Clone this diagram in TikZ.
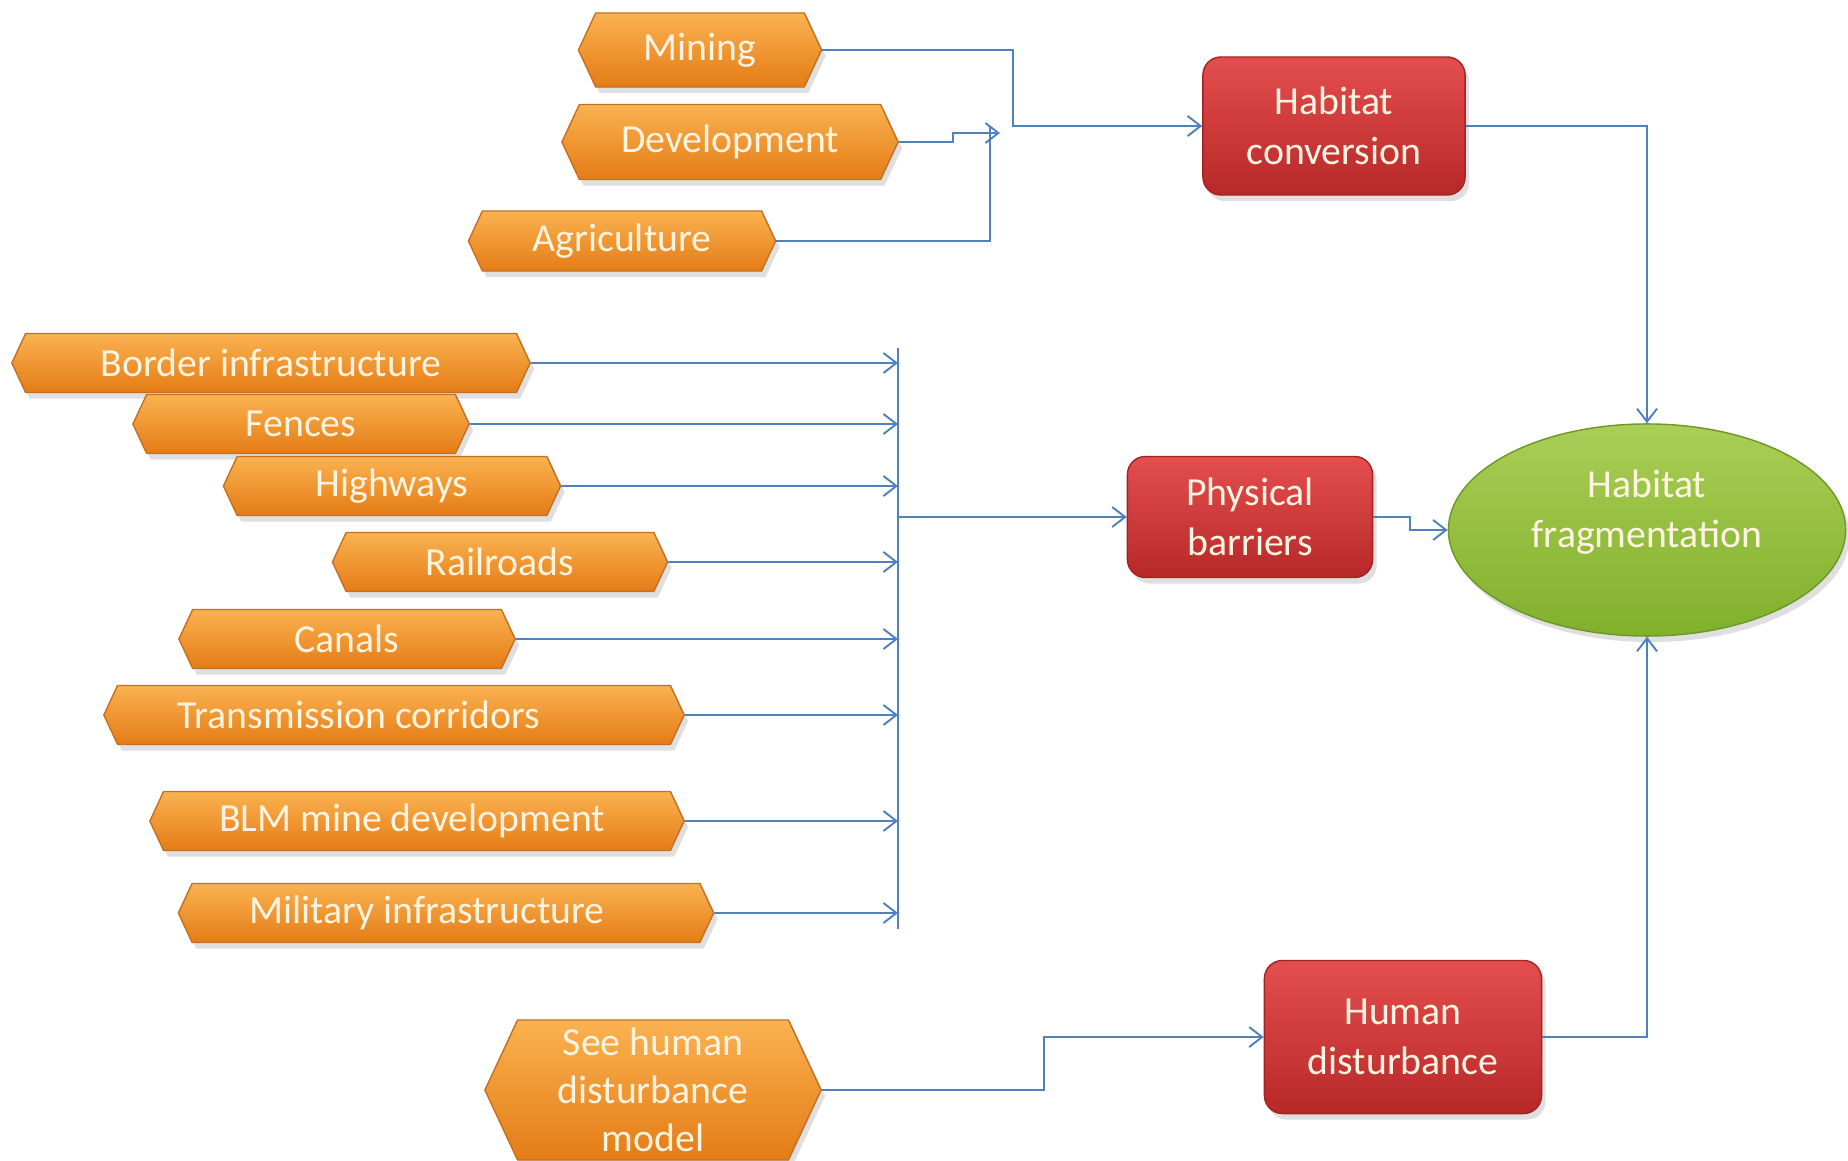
\documentclass[tikz,border=0pt]{standalone}
\usepackage{fontspec}
\setmainfont{Carlito}
\usepackage{tikz}
\usetikzlibrary{arrows.meta, shapes.symbols, shapes.geometric, shadows}

\definecolor{orTop}{RGB}{250,178,80}
\definecolor{orMid}{RGB}{247,148,32}
\definecolor{orBot}{RGB}{228,124,22}
\definecolor{orEdge}{RGB}{196,112,36}
\definecolor{redTop}{RGB}{228,78,78}
\definecolor{redMid}{RGB}{210,58,58}
\definecolor{redBot}{RGB}{184,40,40}
\definecolor{redEdge}{RGB}{160,36,36}
\definecolor{grTop}{RGB}{170,206,86}
\definecolor{grMid}{RGB}{150,194,64}
\definecolor{grBot}{RGB}{128,176,44}
\definecolor{grEdge}{RGB}{110,150,40}
\definecolor{lnBlue}{RGB}{79,129,189}
\definecolor{txCream}{RGB}{255,244,226}

\begin{document}
\begin{tikzpicture}[x=0.01cm, y=-0.01cm, >={Straight Barb[length=1.3mm, width=2mm]},
    every node/.style={font=\fontsize{11.3}{14.2}\selectfont, text=txCream,
    align=center, inner sep=0pt}]

  \tikzstyle{driver}=[signal, signal to=east and west, signal pointer angle=130,
    draw=orEdge, thin, top color=orTop, middle color=orMid, bottom color=orBot,
    drop shadow={opacity=0.25, shadow xshift=0.4mm, shadow yshift=-0.6mm},
    minimum height=0.59cm]
  \tikzstyle{effect}=[rectangle, rounded corners=0.18cm, draw=redEdge, thin,
    top color=redTop, middle color=redMid, bottom color=redBot,
    drop shadow={opacity=0.25, shadow xshift=0.4mm, shadow yshift=-0.6mm}]
  \tikzstyle{link}=[color=lnBlue, line width=0.55pt]

  \useasboundingbox (0,0) rectangle (1848,1161);

  \node[driver, minimum width=2.43cm, minimum height=0.74cm] (mining) at (700,50) {Mining};
  \node[driver, minimum width=3.36cm, minimum height=0.75cm] (dev) at (730,142) {Development};
  \node[driver, minimum width=3.07cm, minimum height=0.60cm] (agri) at (622,241) {Agriculture};

  \node[driver, minimum width=5.18cm] (border) at (271,363) {Border infrastructure};
  \node[driver, minimum width=3.36cm] (fences) at (301,424) {Fences};
  \node[driver, minimum width=3.37cm] (highways) at (392,486) {Highways};
  \node[driver, minimum width=3.35cm] (railroads) at (500,562) {Railroads};
  \node[driver, minimum width=3.36cm] (canals) at (347,639) {Canals};
  \node[driver, minimum width=5.80cm] (transm) at (394,715)
    {Transmission corridors\hspace*{0.7cm}};
  \node[driver, minimum width=5.34cm] (blm) at (417,821)
    {BLM mine development\hspace*{0.1cm}};
  \node[driver, minimum width=5.35cm] (military) at (446,913)
    {Military infrastructure\hspace*{0.38cm}};
  \node[driver, minimum width=3.36cm, minimum height=1.40cm,
    font=\fontsize{11.3}{13.7}\selectfont] (seemodel) at (653,1090)
    {See human\\disturbance\\model};

  \node[effect, minimum width=2.62cm, minimum height=1.38cm] (conv) at (1334,126)
    {Habitat\\conversion};
  \node[effect, minimum width=2.45cm, minimum height=1.21cm] (barr) at (1250,517)
    {Physical\\barriers};
  \node[effect, minimum width=2.77cm, minimum height=1.53cm] (human) at (1403,1037)
    {Human\\disturbance};

  \node[ellipse, draw=grEdge, thin, top color=grTop, middle color=grMid,
    bottom color=grBot, minimum width=3.97cm, minimum height=2.12cm,
    drop shadow={opacity=0.25, shadow xshift=0.4mm, shadow yshift=-0.6mm},
    label={[yshift=0.18cm]center:{Habitat\\fragmentation}}] (frag) at (1647,530) {};

  \coordinate (convjoin) at (1013,126);
  \coordinate (agrijoin) at (990,126);
  \coordinate (devtip) at (1000,133);
  \coordinate (bustop) at (898,348);
  \coordinate (busbot) at (898,929);

  \draw[->, link] (mining) -| (convjoin) -- (conv);
  \draw[->, link] (dev.east) -- ++(54,0) |- (devtip);
  \draw[link] (agri) -| (agrijoin);

  \draw[link] (bustop) -- (busbot);
  \path[->, link]
  (border) edge (border -| bustop)
  (fences) edge (fences -| bustop)
  (highways) edge (highways -| bustop)
  (railroads) edge (railroads -| bustop)
  (canals) edge (canals -| bustop)
  (transm) edge (transm -| bustop)
  (blm) edge (blm -| bustop)
  (military) edge (military -| bustop)
  (barr -| bustop) edge (barr);

  \draw[->, link] (conv) -| (frag);
  \draw[->, link] (barr.east) -- ++(37,0) |- (frag);
  \draw[->, link] (human) -| (frag);
  \draw[->, link] (seemodel.east) -- ++(222,0) |- (human);
\end{tikzpicture}
\end{document}
